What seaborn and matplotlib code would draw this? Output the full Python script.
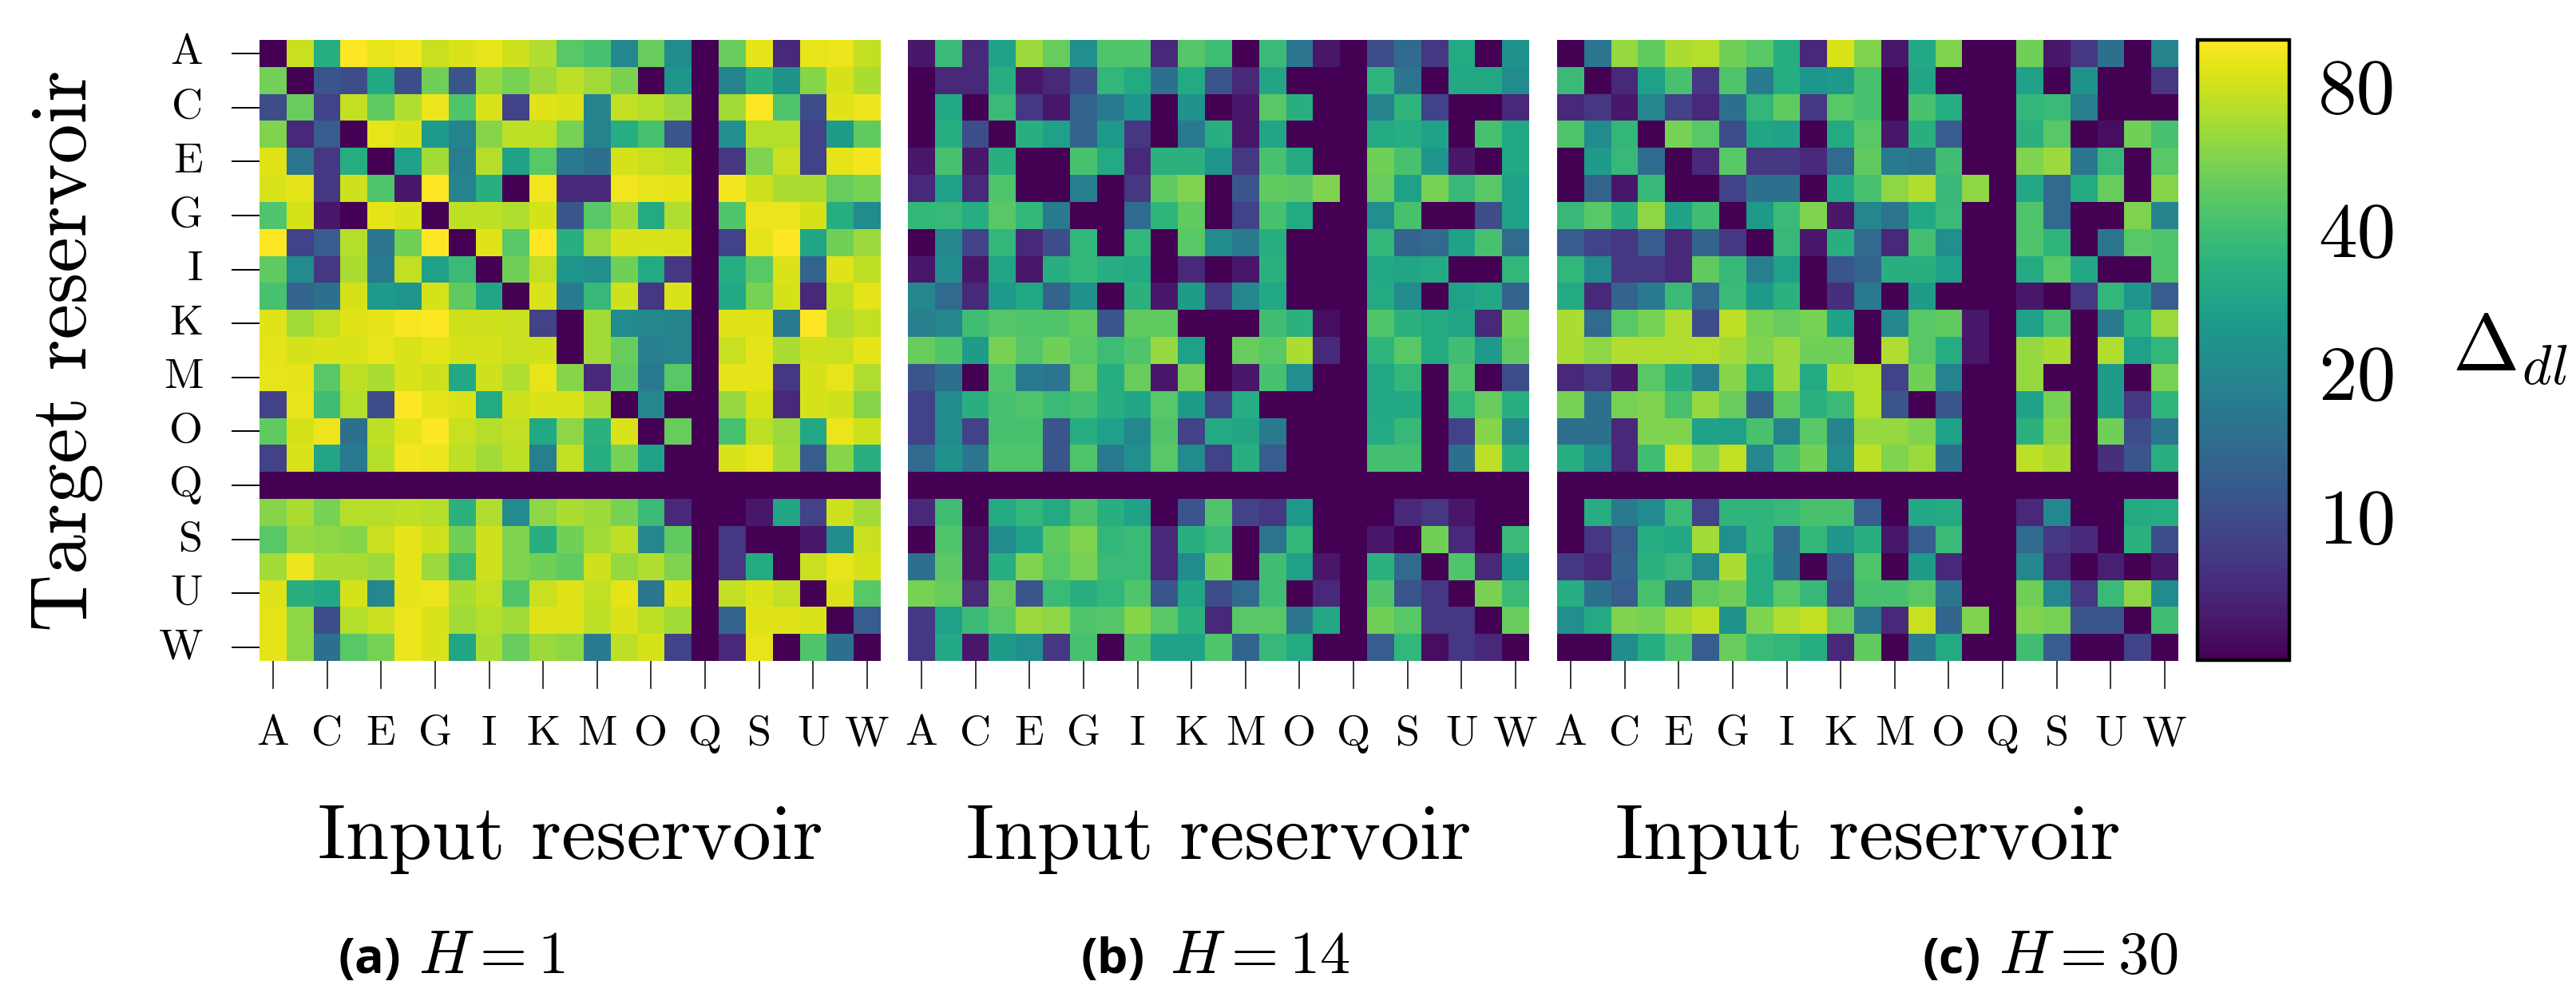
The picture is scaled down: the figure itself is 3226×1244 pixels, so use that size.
import pandas as pd
import seaborn as sns
import matplotlib
matplotlib.use("Agg")
import matplotlib.pyplot as plt
from matplotlib.colors import LogNorm

LETTERS = list("ABCDEFGHIJKLMNOPQRSTUVW")

H1 = [
  [5,78,32,98,90,95,78,84,90,80,70,46,42,20,50,21,5,50,88,7,90,92,76],
  [53,5,11,10,30,10,52,11,62,54,64,74,66,55,5,24,5,19,34,23,58,82,68],
  [10,50,9,76,48,70,92,44,84,9,86,84,19,76,72,64,5,66,98,44,10,86,92],
  [56,7,12,5,90,84,25,19,58,74,74,54,19,32,42,11,5,22,72,72,9,26,48],
  [86,16,8,32,5,27,66,18,72,28,46,17,15,82,78,74,5,8,56,78,9,88,95],
  [84,88,8,80,44,6,98,19,33,5,94,7,7,94,90,88,5,95,80,68,68,50,54],
  [44,82,6,5,88,84,5,74,74,70,82,11,46,66,31,70,5,44,92,92,82,32,21],
  [99,9,12,72,16,52,98,5,86,46,99,33,64,84,84,83,5,9,88,99,29,52,64],
  [48,21,8,68,17,76,27,38,5,52,76,24,22,52,31,8,5,32,46,84,13,86,74],
  [42,13,15,82,25,24,82,48,29,5,84,17,37,80,8,84,5,30,54,82,7,74,88],
  [86,66,76,86,88,96,98,80,80,78,9,5,66,21,20,19,5,86,86,17,99,70,76],
  [88,82,84,84,90,84,88,82,82,78,80,5,66,50,18,19,5,78,88,68,80,78,88],
  [90,88,46,74,68,84,80,30,80,70,90,58,7,48,17,46,5,88,88,8,82,90,70],
  [9,90,40,72,10,99,88,84,31,80,84,84,68,5,20,5,5,62,82,7,82,80,58],
  [48,82,92,15,74,88,98,78,72,76,30,60,34,84,5,50,5,42,74,64,30,92,80],
  [9,84,29,17,72,95,92,74,66,74,18,76,32,54,28,5,5,84,90,66,12,58,33],
  [5,5,5,5,5,5,5,5,5,5,5,5,5,5,5,5,5,5,5,5,5,5,5],
  [58,68,54,72,72,74,72,34,70,21,60,68,64,54,38,7,5,5,6,29,9,80,66],
  [46,62,60,58,78,88,80,52,80,56,33,52,66,74,20,48,5,8,5,5,6,21,78],
  [66,92,68,68,64,88,64,38,80,56,52,48,80,62,70,56,5,8,31,5,78,90,82],
  [86,33,30,82,20,88,92,68,76,44,78,86,76,88,16,82,5,76,84,76,5,84,46],
  [88,60,10,72,78,92,84,66,72,66,86,86,74,84,74,66,5,13,86,86,84,5,12],
  [88,60,15,46,54,92,84,29,68,50,64,60,17,74,82,9,5,7,90,5,44,15,5],
]

H14 = [
  [6,38,7,28,64,50,22,44,44,7,45,39,5,38,16,6,5,10,14,8,31,5,23],
  [5,7,7,32,6,7,10,36,31,15,31,11,7,29,5,5,5,35,16,5,30,30,21],
  [5,30,5,38,8,6,13,17,24,5,23,5,6,46,33,5,5,19,35,9,5,5,7],
  [5,32,10,5,33,27,13,25,8,5,17,33,6,29,5,5,5,31,32,28,5,42,30],
  [6,42,6,33,5,5,42,31,7,34,34,24,8,42,31,5,5,52,42,24,6,5,30],
  [7,27,7,44,5,5,18,5,8,48,56,5,11,48,47,56,5,50,27,54,37,46,27],
  [36,37,32,46,36,17,5,5,14,35,48,5,9,42,31,5,5,22,42,5,5,10,27],
  [5,20,9,36,7,10,36,5,36,5,46,21,17,33,5,5,5,36,13,14,28,42,14],
  [6,21,6,29,6,33,36,32,31,5,7,5,6,34,5,5,5,30,29,31,5,5,36],
  [20,14,7,25,30,13,23,5,34,6,26,8,20,30,5,5,5,31,21,5,27,30,13],
  [18,20,40,45,44,44,48,11,48,48,5,5,5,40,34,5.5,5,44,34,31,29,7,52],
  [50,44,26,54,45,52,46,39,44,62,27,5,50,46,68,7,5,35,46,31,40,25,48],
  [11,15,5,44,17,16,50,32,50,6,53,5,6,42,22,5,5,30,36,5,44,5,10],
  [9,21,33,42,44,38,41,33,29,46,26,9,32,5,5,5,5,30,30,5,36,50,33],
  [9,21,9,42,42,11,32,27,20,44,9,31,29,17,5,5,5,31,37,5,9,58,20],
  [14,23,16,44,44,11,44,17,22,46,21,9,33,12,5,5,5,41,41,5,15,74,33],
  [5,5,5,5,5,5,5,5,5,5,5,5,5,5,5,5,5,5,5,5,5,5,5],
  [7,40,5,31,36,31,43,33,28,5,11,44,9,8,25,5,5,5,7,8,6,5,5],
  [5,44,5.5,21,28,48,56,36,38,7,33,38,5,16,36,5,5,6,5,52,7,5,38],
  [15,47,5.5,32,56,46,54,38,38,7,21,52,5,40,27,6,5,34,14,5,44,7,25],
  [54,50,7,50,11,38,33,36,44,11,29,10,14,40,5,7,5,44,11,8,5,55,38],
  [8,27,38,46,64,60,44,45,58,46,34,7,46,46,16,30,5,52,46,8,8,5,50],
  [8,30,6,26,22,8,42,5,44,28,28,44,13,37,31,5,5,12,36,5.5,8,7,5],
]

H30 = [
  [5,16,62,48,68,72,52,46,32,7,84,56,6,30,56,5,5,52,6,8,15,5,19],
  [38,5,7,27,42,8,44,17,32,24,25,42,5,29,5,5,5,28,5,23,5,5,8],
  [7,8,6,20,9,7,15,36,48,8,46,42,5,42,32,5,5,36,38,18,5,5,5],
  [44,21,36,5,54,46,10,29,28,5,31,46,6,33,12,5,5,34,46,5,5.5,52,42],
  [5,26,37,14,5,7,46,8,8,7,14,48,17,16,40,5,5,56,64,16,37,5,46],
  [5,13,6,37,5,5,9,15,15,5,30,42,60,70,37,60,5,30,14,31,50,5,58],
  [37,46,33,60,28,40,5,25,38,56,6,20,16,30,38,5,5,44,14,5,5,56,19],
  [12,9,8,12,7,13,8,5,37,6,33,14,7,41,22,5,5,44,35,5,16,46,44],
  [36,21,8,8,7,48,37,18,27,5,11,13,33,33,27,5,5,31,46,30,5,5,44],
  [31,7,13,17,38,14,38,25,34,5,7.5,17,5,26,5,5,5,6,5,8,36,24,12],
  [68,14,46,54,70,10,74,54,50,54,28,5,20,46,48,6,5,27,42,5,17,35,64],
  [68,60,70,70,70,72,66,56,64,52,52,5,70,46,32,6,5,62,68,5,70,27,36],
  [7,8,6,46,33,18,58,31,64,31,68,72,9,52,19,5,5,62,5,5,26,5,54],
  [54,15,54,56,42,62,50,13,48,34,38,72,11,5,11,5,5,28,54,5,26,8,35],
  [15,15,7,56,56,28,27,42,19,46,19,62,62,56,28,5,5,34,58,5,52,10,16],
  [32,21,7,40,78,56,76,20,42,52,21,74,56,64,15,5,5,74,68,5,7.5,11,33],
  [5,5,5,5,5,5,5,5,5,5,5,5,5,5,5,5,5,5,5,5,5,5,5],
  [5,32,17,21,38,9,35,35,37,42,42,12,5,30,31,5,5,7,20,5,5,31,32],
  [5,8,12,32,30,66,22,35,14,36,24,33,6,12,38,5,5,14,8,7,5,34,10],
  [8,7,13,34,37,20,68,32,15,5,11,44,5,26,7,5,5,20,7,5,6.5,5,6],
  [32,15,12,42,15,48,52,32,46,37,10,42,42,46,16,5,5,52,20,8,38,60,21],
  [22,31,56,54,66,74,23,56,70,76,50,16,7,78,13,56,5,56,54,11,11,5,40],
  [5,5,21,32,44,12,50,38,36,32,7,48,5,17,31,5,5,40,12,5,5,9,5],
]

PANELS = [H1, H14, H30]
CAPTION_TAGS = ["(a)", "(b)", "(c)"]
CAPTION_MATH = ["$H = 1$", "$H = 14$", "$H = 30$"]
CBAR_TICKS = [10, 20, 40, 80]

W, H = 3226, 1244

sns.set_style("white")
plt.rcParams["font.family"] = ["cmr10", "DejaVu Sans"]
plt.rcParams["axes.formatter.use_mathtext"] = True
plt.rcParams["mathtext.fontset"] = "cm"
plt.rcParams["text.color"] = "black"
plt.rcParams["axes.labelcolor"] = "black"
plt.rcParams["xtick.labelcolor"] = "black"
plt.rcParams["ytick.labelcolor"] = "black"

def box(x0, y0, x1, y1):
  # pixel box, y from the top
  return [x0 / W, 1 - y1 / H, (x1 - x0) / W, (y1 - y0) / H]

fig = plt.figure(figsize=(W / 100, H / 100), dpi=100)
lefts = [325, 1137, 1950]
norm = LogNorm(vmin=5, vmax=100)
cax = fig.add_axes(box(2752, 50, 2867, 827))

for i, data in enumerate(PANELS):
  ax = fig.add_axes(box(lefts[i], 50, lefts[i] + 778, 828))
  df = pd.DataFrame(data, index=LETTERS, columns=LETTERS)
  sns.heatmap(df, cmap="viridis", norm=norm, ax=ax, cbar=(i == 2), cbar_ax=cax if i == 2 else None,
              xticklabels=2, yticklabels=2 if i == 0 else False)
  ax.tick_params(axis="x", length=25, width=1.1, pad=24, labelsize=39, labelrotation=0, bottom=True, color="black")
  ax.tick_params(axis="y", length=25, width=1.4, pad=26, labelsize=39, labelrotation=0, left=(i == 0), color="black")
  ax.set_xlabel("Input reservoir", fontsize=70, labelpad=46)
  ax.set_ylabel("Target reservoir" if i == 0 else "", fontsize=72, labelpad=50)

cbar = ax.collections[0].colorbar
cbar.set_ticks(CBAR_TICKS)
cbar.set_ticklabels([str(t) for t in CBAR_TICKS])
cbar.ax.minorticks_off()
cbar.ax.tick_params(axis="y", which="major", direction="in", length=24, width=1, color="gray", left=True, right=True, labelsize=70, pad=26)
cbar.outline.set_visible(True)
cbar.outline.set_edgecolor("black")
cbar.outline.set_linewidth(3.2)

fig.text(3071 / W, 1 - 438 / H, r"$\Delta_{dl}$", fontsize=72, va="center", ha="left")

cap_x = [424, 1353, 2408]
math_x = [524, 1465, 2503]
for i in range(3):
  fig.text(cap_x[i] / W, 1 - 1219 / H, CAPTION_TAGS[i], fontsize=44, fontweight="bold", family="Open Sans", va="baseline")
  fig.text(math_x[i] / W, 1 - 1219 / H, CAPTION_MATH[i], fontsize=55, va="baseline")

fig.savefig("out.png", dpi=100)
print("done")
